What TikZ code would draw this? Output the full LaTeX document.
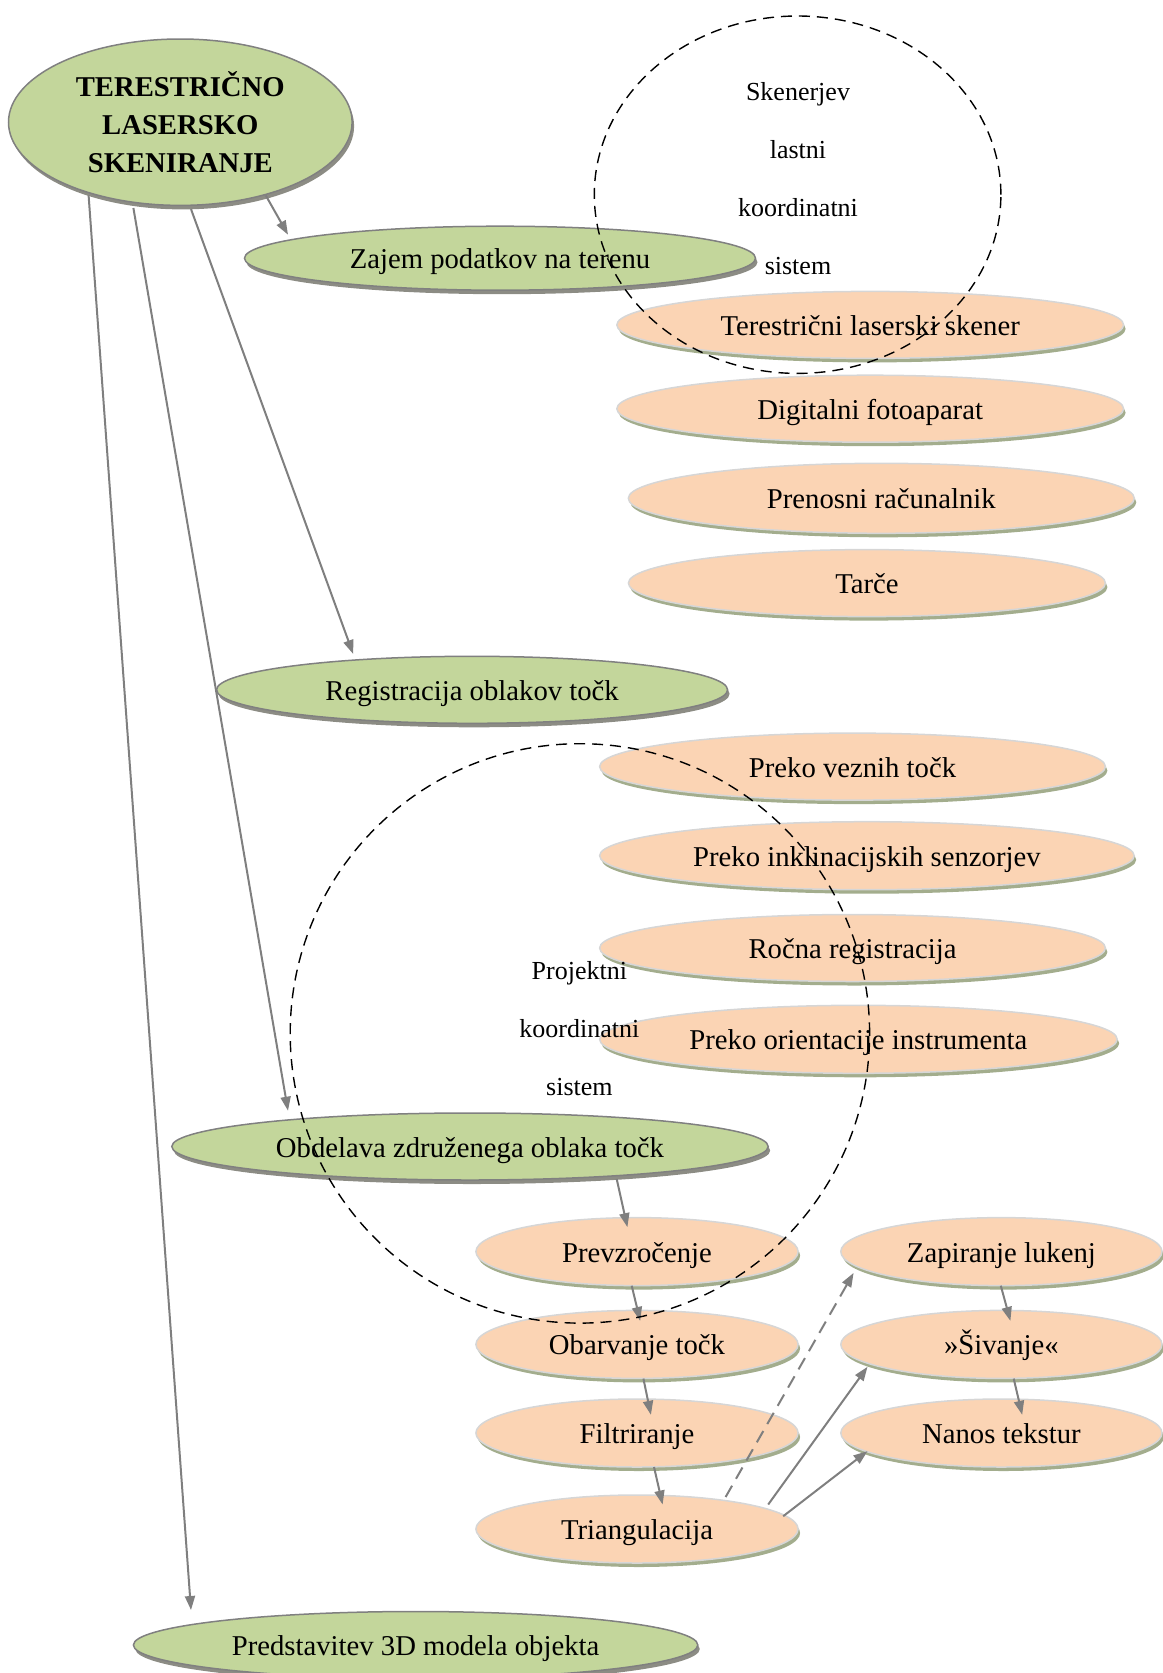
\documentclass[tikz,border=0pt]{standalone}
\usepackage{fontspec}
\setmainfont{Liberation Serif}
\usetikzlibrary{shapes.geometric,shadows,arrows.meta,calc}
\definecolor{gfill}{HTML}{C3D69B}
\definecolor{gline}{HTML}{808080}
\definecolor{gshadow}{HTML}{8C8C84}
\definecolor{ofill}{HTML}{FBD4B4}
\definecolor{oline}{HTML}{D6D6D6}
\definecolor{oshadow}{HTML}{A3AD8D}
\definecolor{connc}{HTML}{7F7F7F}
\begin{document}
\begin{tikzpicture}[x=1pt,y=-1pt,
  base/.style={ellipse, inner sep=0pt, outer sep=0pt, font=\fontsize{28.7}{34}\selectfont},
  gshape/.style={base, fill=gfill, draw=gline, line width=1.5pt,
    drop shadow={shadow xshift=2pt, shadow yshift=-4pt, fill=gshadow, opacity=1}},
  gnode/.style={gshape, text height=22pt, text depth=1pt},
  onode/.style={base, fill=ofill, draw=oline, line width=1.5pt, text height=22pt, text depth=1pt,
    drop shadow={shadow xshift=2pt, shadow yshift=-4pt, fill=oshadow, opacity=1}},
  conn/.style={draw=connc, line width=2pt, -{Triangle[length=14pt,width=10pt]}},
  dconn/.style={conn, dash pattern=on 13pt off 8pt},
  dcirc/.style={ellipse, draw=black, line width=1.4pt, dash pattern=on 11pt off 7pt, inner sep=0pt, outer sep=0pt},
  ctext/.style={align=center, inner sep=0pt, font=\fontsize{26}{58.2}\selectfont}
]
\useasboundingbox (0,0) rectangle (1162,1673);

% main nodes
\node[gshape, minimum width=343.6pt, minimum height=166.4pt, align=center,
  font=\fontsize{28.7}{38.4}\selectfont\bfseries] (main) at (180.3,122.2)
  {TERESTRIČNO\\LASERSKO\\SKENIRANJE};
\node[gnode, minimum width=511pt, minimum height=64pt] (zajem) at (500,258.2) {Zajem podatkov na terenu};
\node[gnode, minimum width=511pt, minimum height=67pt] (reg) at (472.1,689.8) {Registracija oblakov točk};
\node[gnode, minimum width=596.4pt, minimum height=67pt] (obd) at (470,1146.5) {Obdelava združenega oblaka točk};
\node[gnode, minimum width=564.4pt, minimum height=67pt] (pred) at (415.6,1645) {Predstavitev 3D modela objekta};

% equipment
\node[onode, minimum width=506.8pt, minimum height=67pt] (tls) at (870.2,324.9) {Terestrični laserski skener};
\node[onode, minimum width=506.8pt, minimum height=67pt] (foto) at (870.2,408.7) {Digitalni fotoaparat};
\node[onode, minimum width=506pt, minimum height=70pt] (pren) at (881.3,498.3) {Prenosni računalnik};
\node[onode, minimum width=477pt, minimum height=67pt] (tarce) at (866.9,583.1) {Tarče};

% registration
\node[onode, minimum width=505.8pt, minimum height=67pt] (vez) at (852.5,766.6) {Preko veznih točk};
\node[onode, minimum width=534.6pt, minimum height=68pt] (inkl) at (866.9,855.7) {Preko inklinacijskih senzorjev};
\node[onode, minimum width=505.8pt, minimum height=67pt] (rocna) at (852.5,948) {Ročna registracija};
\node[onode, minimum width=517.6pt, minimum height=68pt] (orient) at (858.4,1039.3) {Preko orientacije instrumenta};

% processing
\node[onode, minimum width=322.2pt, minimum height=68pt] (prev) at (637,1251.6) {Prevzročenje};
\node[onode, minimum width=322.2pt, minimum height=68pt] (obar) at (637,1344.4) {Obarvanje točk};
\node[onode, minimum width=322.2pt, minimum height=68pt] (filt) at (637,1433) {Filtriranje};
\node[onode, minimum width=322.2pt, minimum height=68pt] (tri) at (637,1529) {Triangulacija};
\node[onode, minimum width=321.2pt, minimum height=68pt] (zap) at (1001.4,1251.6) {Zapiranje lukenj};
\node[onode, minimum width=321.2pt, minimum height=68pt] (siv) at (1001.4,1344.4) {»Šivanje«};
\node[onode, minimum width=321.2pt, minimum height=68pt] (nanos) at (1001.4,1433) {Nanos tekstur};

% connectors
\draw[conn] ($(main.center)+(85.4,73.1)$) -- ($(zajem.center)+(-212,-23.5)$);
\draw[conn] ($(main.center)+(10.7,86.9)$) -- ($(reg.center)+(-118.9,-35.8)$);
\draw[conn] ($(main.center)+(-46.9,85.8)$) -- ($(obd.center)+(-182,-35.8)$);
\draw[conn] ($(main.center)+(-91.7,73.1)$) -- ($(pred.center)+(-224.6,-35)$);
\draw[conn] ($(obd.center)+(146.7,32.5)$) -- ($(prev.center)+(-9.6,-24.5)$);
\draw[conn] ($(prev.center)+(-5.3,34.1)$) -- ($(obar.center)+(3.2,-23.5)$);
\draw[conn] ($(obar.center)+(6.4,34.2)$) -- ($(filt.center)+(13.9,-18.2)$);
\draw[conn] ($(filt.center)+(17,34)$) -- ($(tri.center)+(25.6,-24.5)$);
\draw[dconn] ($(tri.center)+(88.6,-32)$) -- ($(zap.center)+(-147.8,21.3)$);
\draw[conn] ($(tri.center)+(131.2,-24.5)$) -- ($(siv.center)+(-133.9,22.4)$);
\draw[conn] ($(tri.center)+(146.2,-12.8)$) -- ($(nanos.center)+(-133.9,18.1)$);
\draw[conn] ($(zap.center)+(-0.6,34.1)$) -- ($(siv.center)+(9,-23.5)$);
\draw[conn] ($(siv.center)+(12.3,34.2)$) -- ($(nanos.center)+(20.8,-18.2)$);

% dashed coordinate-system circles
\node[dcirc, minimum width=406.6pt, minimum height=357.4pt] (c1) at (797.6,194.7) {};
\node[dcirc, minimum width=579.4pt, minimum height=579.4pt] (c2) at (579.9,1033.4) {};
\node[ctext] (t1) at (798,178.7) {Skenerjev\\lastni\\koordinatni\\sistem};
\node[ctext] (t2) at (579.4,1028.6) {Projektni\\koordinatni\\sistem};
\end{tikzpicture}
\end{document}
